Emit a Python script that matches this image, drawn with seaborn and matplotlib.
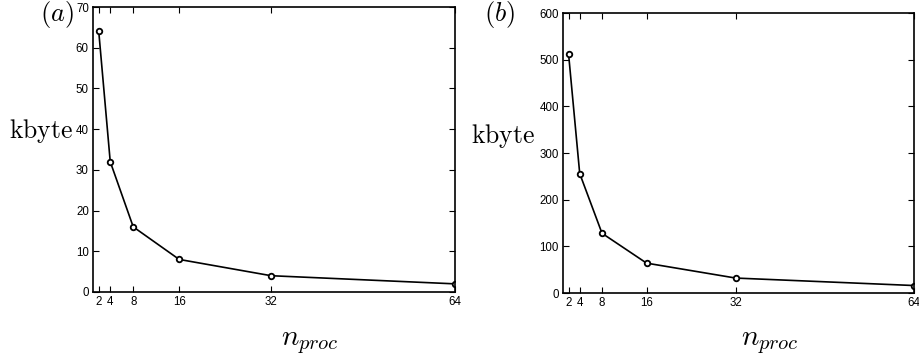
import matplotlib
matplotlib.use("Agg")
import matplotlib.pyplot as plt
import seaborn as sns
import pandas as pd

nproc = [2, 4, 8, 16, 32, 64]
kbyte_a = [64, 32, 16, 8, 4, 2]
kbyte_b = [512, 256, 128, 64, 32, 16]
xticks = [2, 4, 8, 16, 32, 64]
yticks_a = [0, 10, 20, 30, 40, 50, 60, 70]
yticks_b = [0, 100, 200, 300, 400, 500, 600]

sns.set_theme(style="ticks")
plt.rcParams['font.family'] = ['Liberation Sans', 'DejaVu Sans']
plt.rcParams['mathtext.fontset'] = 'cm'
plt.rcParams['text.color'] = 'black'

W, H = 920, 361
fig = plt.figure(figsize=(W / 100, H / 100), dpi=100)

def box(l, t, r, b):
    return [l / W, 1 - b / H, (r - l) / W, (b - t) / H]

ax1 = fig.add_axes(box(93, 7, 455, 292))
ax2 = fig.add_axes(box(563, 13, 914, 293))

for ax, vals, yt, ymax in [(ax1, kbyte_a, yticks_a, 70), (ax2, kbyte_b, yticks_b, 600)]:
    df = pd.DataFrame({"n": nproc, "k": vals})
    sns.lineplot(data=df, x="n", y="k", ax=ax, color="black", linewidth=1.2,
                 marker="o", markersize=4, markerfacecolor="white",
                 markeredgecolor="black", markeredgewidth=1.3)
    ax.set_xlim(1, 64)
    ax.set_ylim(0, ymax)
    ax.set_xticks(xticks)
    ax.set_yticks(yt)
    ax.tick_params(direction="in", top=True, right=True, length=4, width=0.8,
                   labelsize=8.3, pad=3, colors="black")
    for s in ax.spines.values():
        s.set_visible(True)
        s.set_linewidth(1.2)
        s.set_color("black")
    ax.set_xlabel("")
    ax.set_ylabel("")
    ax.set_facecolor("white")

kw = dict(ha="center", va="center", color="black")
fig.text(57 / W, 1 - 15 / H, r"$(a)$", fontsize=19, **kw)
fig.text(500 / W, 1 - 15 / H, r"$(b)$", fontsize=19, **kw)
fig.text(41 / W, 1 - 131 / H, r"$\mathrm{kbyte}$", fontsize=18.5, **kw)
fig.text(503 / W, 1 - 136 / H, r"$\mathrm{kbyte}$", fontsize=18.5, **kw)
fig.text(310 / W, 1 - 342 / H, r"$n_{proc}$", fontsize=21, **kw)
fig.text(770 / W, 1 - 342 / H, r"$n_{proc}$", fontsize=21, **kw)

fig.savefig("out.png", dpi=100, facecolor="white")
